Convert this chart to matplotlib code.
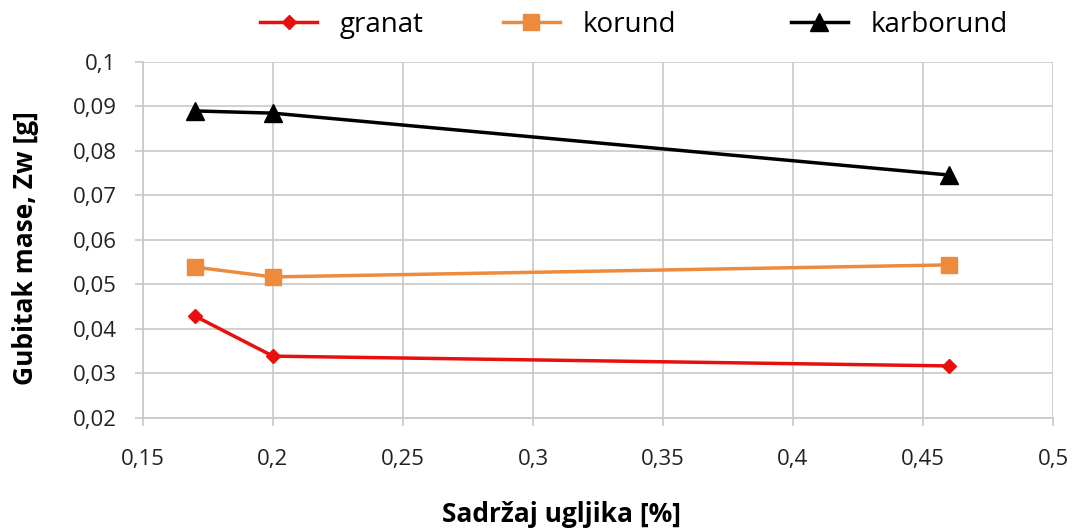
import matplotlib
matplotlib.use("Agg")
import matplotlib.pyplot as plt
from matplotlib.ticker import FuncFormatter, MultipleLocator

x = [0.17, 0.2, 0.46]
granat = [0.0429, 0.0339, 0.0317]
korund = [0.0539, 0.0517, 0.0544]
karborund = [0.0890, 0.0885, 0.0746]
series_names = ['granat', 'korund', 'karborund']

plt.rcParams['font.family'] = ['Open Sans', 'DejaVu Sans']

fig = plt.figure(figsize=(10.75, 5.32), dpi=100)
ax = fig.add_axes([0.133, 0.2143, 0.8465, 0.6692])

l1, = ax.plot(x, granat, color='#e8100f', marker='D', markersize=7, lw=2.5, label=series_names[0])
l2, = ax.plot(x, korund, color='#ed8a3c', marker='s', markersize=11, lw=2.5, label=series_names[1])
l3, = ax.plot(x, karborund, color='black', marker='^', markersize=13, lw=2.5, label=series_names[2])

ax.set_xlim(0.15, 0.5)
ax.set_ylim(0.02, 0.1)
ax.xaxis.set_major_locator(MultipleLocator(0.05))
ax.yaxis.set_major_locator(MultipleLocator(0.01))
fmt = FuncFormatter(lambda v, p: ('%g' % round(v, 4)).replace('.', ','))
ax.xaxis.set_major_formatter(fmt)
ax.yaxis.set_major_formatter(fmt)
ax.grid(True, color='#c8c8c8', lw=1.2)
ax.set_axisbelow(True)
for s in ['top', 'right']:
    ax.spines[s].set_visible(False)
for s in ['left', 'bottom']:
    ax.spines[s].set_color('#c8c8c8')
    ax.spines[s].set_linewidth(1.2)
ax.tick_params(axis='both', colors='#c8c8c8', labelcolor='#222222', labelsize=16, length=6, width=1.2)
ax.tick_params(axis='x', pad=16)
ax.tick_params(axis='y', pad=13)

fig.text(0.522, 0.032, 'Sadržaj ugljika [%]', fontsize=19, fontweight='bold', ha='center', va='center')
fig.text(0.024, 0.534, 'Gubitak mase, Zw [g]', fontsize=19, fontweight='bold', ha='center', va='center', rotation=90)

for line, xa in zip([l1, l2, l3], [0.2419, 0.4679, 0.7358]):
    fig.legend(handles=[line], loc='center left', bbox_to_anchor=(xa, 0.953), frameon=False,
               fontsize=20, handlelength=2.05, handletextpad=0.8, borderaxespad=0, borderpad=0)

fig.savefig('out.png', dpi=100)
